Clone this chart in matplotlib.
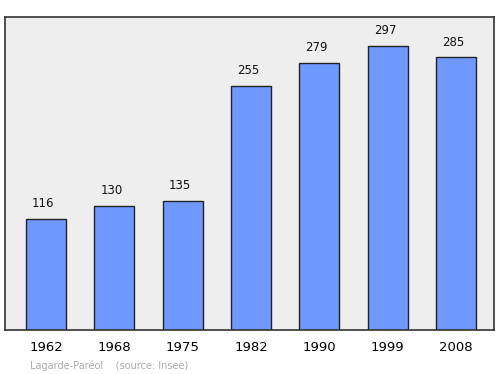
import matplotlib.pyplot as plt

years = ["1962", "1968", "1975", "1982", "1990", "1999", "2008"]
population = [116, 130, 135, 255, 279, 297, 285]

fig = plt.figure(figsize=(5, 3.74), dpi=100)
ax = fig.add_axes([0.01, 0.1176, 0.978, 0.837])
ax.set_facecolor("#eeeeee")

x = range(len(years))
bars = ax.bar(x, population, width=0.585, color="#7099ff", edgecolor="#222222", linewidth=1)
for xi, v in zip(x, population):
    ax.text(xi - 0.04, v + 9, str(v), ha="center", va="bottom", fontsize=8.5, color="#111111")

ax.set_xlim(-0.6, 6.556)
ax.set_ylim(0, 327)
ax.set_xticks(list(x))
ax.set_xticklabels(years, fontsize=9.5)
ax.tick_params(axis="x", length=0, pad=8)
ax.set_yticks([])
for s in ax.spines.values():
    s.set_color("#333333")
    s.set_linewidth(1.2)

fig.text(0.06, 0.014, "Lagarde-Paréol    (source: Insee)", fontsize=7, color="#aaaaaa")

fig.savefig("out.png", dpi=100)
